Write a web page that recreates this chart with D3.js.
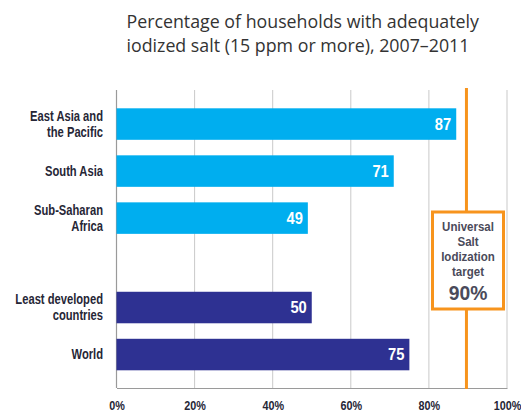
<!DOCTYPE html>
<html>
<head>
<meta charset="utf-8">
<script src="https://cdn.jsdelivr.net/npm/d3@7"></script>
<style>
  body { margin: 0; background: #fff; }
  svg { display: block; }
  .cond { font-family: "Liberation Sans", Arial, sans-serif; font-weight: bold; }
</style>
</head>
<body>
<div class="main"></div>
<script>
////Data
const categories = ['East Asia and the Pacific', 'South Asia', 'Sub-Saharan Africa', 'Least developed countries', 'World'];
const labelLines = [['East Asia and', 'the Pacific'], ['South Asia'], ['Sub-Saharan', 'Africa'], ['Least developed', 'countries'], ['World']];
const values = [87, 71, 49, 50, 75];
const groups = ['region', 'region', 'region', 'aggregate', 'aggregate'];
const xTicks = [0, 20, 40, 60, 80, 100];
const target = 90;
const targetLines = ['Universal', 'Salt', 'Iodization', 'target'];
const titleLines = ['Percentage of households with adequately', 'iodized salt (15 ppm or more), 2007\u20132011'];

////Global Variables
const width = 521;
const height = 411;
const plotLeft = 116.5;
const plotRight = 507;
const plotTop = 90;
const plotBottom = 388;
const groupGap = 42.4;
const colors = { region: '#00AEEF', aggregate: '#2E3192' };
const orange = '#F7941D';
const textCol = '#262636';
const boxText = '#4a4a5a';

const svg = d3.select('.main').append('svg')
  .attr('width', width)
  .attr('height', height);

const xScale = d3.scaleLinear().domain([0, 100]).range([plotLeft, plotRight]);
const yScale = d3.scaleBand().domain(categories)
  .range([108.3, 108.3 + 4 * 47 + 31.6])
  .paddingInner(0.33);

const yPos = i => yScale(categories[i]) + (groups[i] === 'aggregate' ? groupGap : 0);

////Narrow bold text (no condensed font installed, so squeeze it)
function narrowText(parent, x, y, str, size, squeeze, anchor, fill) {
  return parent.append('g')
    .attr('transform', `translate(${x}, ${y}) scale(${squeeze}, 1)`)
    .append('text')
    .attr('class', 'cond')
    .attr('text-anchor', anchor)
    .attr('font-size', size)
    .attr('fill', fill)
    .text(str);
}

////Title
svg.append('text')
  .attr('font-family', '"Open Sans", sans-serif')
  .attr('font-size', 17.8)
  .attr('fill', '#333')
  .selectAll('tspan')
  .data(titleLines)
  .enter()
  .append('tspan')
  .attr('x', 126.5)
  .attr('y', (d, i) => 27.8 + i * 24.2)
  .text(d => d);

////Gridlines
svg.append('g')
  .selectAll('line')
  .data(xTicks.slice(1))
  .enter()
  .append('line')
  .attr('x1', d => xScale(d))
  .attr('x2', d => xScale(d))
  .attr('y1', plotTop)
  .attr('y2', plotBottom)
  .attr('stroke', '#c9c9c9')
  .attr('stroke-width', 1);

////Axis
const xAxis = d3.axisBottom(xScale)
  .tickValues(xTicks)
  .tickSize(0)
  .tickPadding(13)
  .tickFormat(d => d + '%');

const gx = svg.append('g')
  .attr('transform', `translate(0, ${plotBottom})`)
  .call(xAxis);
gx.select('.domain').attr('stroke', '#9a9a9a').attr('stroke-width', 1.2);
gx.selectAll('text')
  .attr('class', 'cond')
  .attr('font-size', 12)
  .attr('fill', textCol)
  .attr('transform', 'scale(0.9, 1)');

svg.append('line')
  .attr('x1', plotLeft).attr('x2', plotLeft)
  .attr('y1', plotTop).attr('y2', plotBottom)
  .attr('stroke', '#9a9a9a')
  .attr('stroke-width', 1.2);

////Bars
const barG = svg.append('g');
barG.selectAll('rect')
  .data(values)
  .enter()
  .append('rect')
  .attr('x', xScale(0))
  .attr('y', (d, i) => yPos(i))
  .attr('width', d => xScale(d) - xScale(0))
  .attr('height', yScale.bandwidth())
  .attr('fill', (d, i) => colors[groups[i]]);

values.forEach((d, i) => {
  narrowText(barG, xScale(d) - 5, yPos(i) + yScale.bandwidth() / 2 + 5.8, d, 16, 0.92, 'end', '#fff');
});

////Category labels
const labelG = svg.append('g');
labelLines.forEach((lines, i) => {
  lines.forEach((t, j) => {
    const y = yPos(i) + yScale.bandwidth() / 2 + 4.8 + (j - (lines.length - 1) / 2) * 16;
    narrowText(labelG, 103, y, t, 14, 0.8, 'end', textCol);
  });
});

////Target line and box
const boxTop = 212;
const boxBottom = 309;
const tx = xScale(target) - 1.5;

svg.append('line')
  .attr('x1', tx).attr('x2', tx)
  .attr('y1', plotTop - 2).attr('y2', boxTop)
  .attr('stroke', orange).attr('stroke-width', 3);
svg.append('line')
  .attr('x1', tx).attr('x2', tx)
  .attr('y1', boxBottom).attr('y2', plotBottom + 1)
  .attr('stroke', orange).attr('stroke-width', 3);

svg.append('rect')
  .attr('x', 432.5)
  .attr('y', boxTop)
  .attr('width', 71)
  .attr('height', boxBottom - boxTop)
  .attr('fill', '#fff')
  .attr('stroke', orange)
  .attr('stroke-width', 3);

const boxG = svg.append('g');
targetLines.forEach((t, i) => {
  narrowText(boxG, 468, 230.7 + i * 15, t, 12.8, 0.9, 'middle', boxText);
});
narrowText(boxG, 468, 300, target + '%', 21, 0.92, 'middle', boxText);
</script>
</body>
</html>
